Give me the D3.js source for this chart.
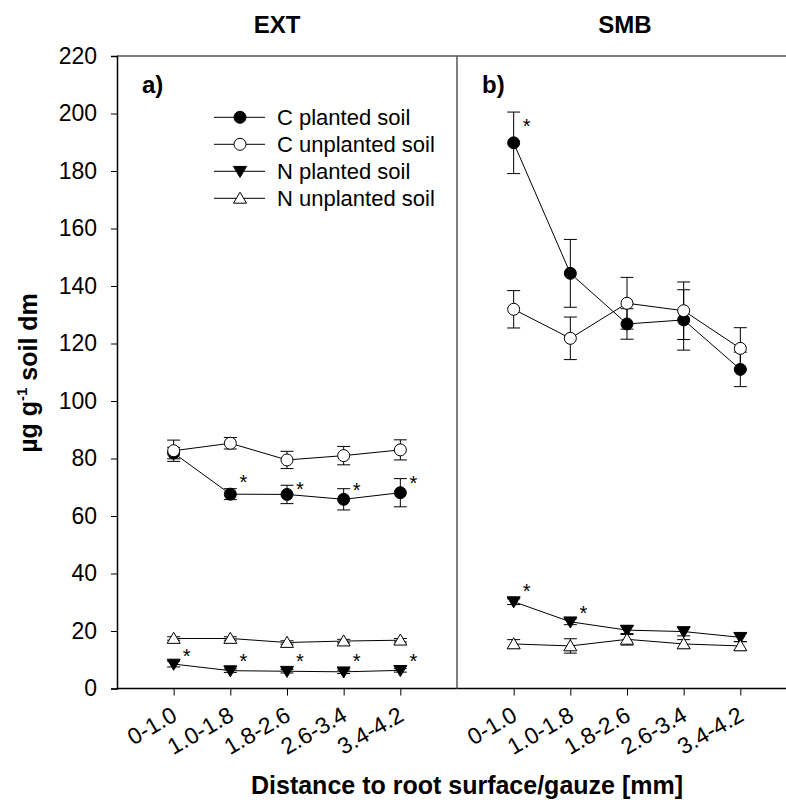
<!DOCTYPE html>
<html>
<head>
<meta charset="utf-8">
<script src="https://cdn.jsdelivr.net/npm/d3@7"></script>
<style>
  body { margin: 0; background: #fff; }
  text { font-family: Arial, "Liberation Sans", sans-serif; }
</style>
</head>
<body>
<script>
var width = 786, height = 802;

// categories and tick labels
var distances = ["0-1.0", "1.0-1.8", "1.8-2.6", "2.6-3.4", "3.4-4.2"];
var yTicks = [0, 20, 40, 60, 80, 100, 120, 140, 160, 180, 200, 220];

// EXT panel (a)
var extCPlanted = [81.9, 67.6, 67.5, 65.8, 68.1];
var extCPlantedErr = [2.0, 1.9, 3.2, 3.7, 4.9];
var extCUnplanted = [82.7, 85.3, 79.5, 81.0, 83.0];
var extCUnplantedErr = [3.7, 2.0, 3.0, 3.2, 3.5];
var extNPlanted = [8.5, 6.2, 6.0, 5.8, 6.3];
var extNPlantedErr = [1.0, 0.6, 0.6, 0.6, 0.6];
var extNUnplanted = [17.4, 17.4, 16.0, 16.5, 16.8];
var extNUnplantedErr = [0.6, 0.6, 0.6, 0.6, 0.6];
var extCStars = [null, 73.2, 70.8, 70.4, 72.9];
var extNStars = [12.8, 10.9, 10.9, 10.9, 11.1];

// SMB panel (b)
var smbCPlanted = [189.8, 144.4, 126.8, 128.2, 111.0];
var smbCPlantedErr = [10.7, 11.8, 5.3, 10.5, 6.0];
var smbCUnplanted = [131.9, 121.8, 134.0, 131.4, 118.3];
var smbCUnplantedErr = [6.5, 7.4, 9.0, 10.0, 7.2];
var smbNPlanted = [30.2, 23.2, 20.3, 19.8, 17.8];
var smbNPlantedErr = [1.0, 1.0, 1.5, 1.5, 1.5];
var smbNUnplanted = [15.5, 14.8, 17.1, 15.5, 14.8];
var smbNUnplantedErr = [1.5, 2.5, 2.0, 1.5, 1.5];
var smbCStars = [197.2, null, null, null, null];
var smbNStars = [35.4, 27.5, null, null, null];

var legendLabels = ["C planted soil", "C unplanted soil", "N planted soil", "N unplanted soil"];

var plotLeft = 117, plotTop = 56, plotBottom = 688.5, panelW = 340;

var svg = d3.select("body")
            .append("svg")
            .attr("width", width)
            .attr("height", height);

var y = d3.scaleLinear().domain([0, 220]).range([plotBottom, plotTop]);

// point shapes: 0 filled circle, 1 open circle, 2 filled down triangle, 3 open up triangle
function drawMarker(g, type, cx, cy) {
  if (type < 2) {
    g.append("circle")
     .attr("cx", cx).attr("cy", cy).attr("r", 6)
     .attr("fill", type == 0 ? "#000" : "#fff")
     .attr("stroke", "#000").attr("stroke-width", 1);
  } else {
    var s = 6.5;
    var pts = type == 2
      ? [[cx - s, cy - s * 0.75], [cx + s, cy - s * 0.75], [cx, cy + s * 0.95]]
      : [[cx - s, cy + s * 0.75], [cx + s, cy + s * 0.75], [cx, cy - s * 0.95]];
    g.append("polygon")
     .attr("points", pts.map(function(p) { return p.join(","); }).join(" "))
     .attr("fill", type == 2 ? "#000" : "#fff")
     .attr("stroke", "#000").attr("stroke-width", 1);
  }
}

function drawPanel(x0, series, stars, tag) {
  var x = d3.scalePoint().domain(distances).range([x0, x0 + panelW]).padding(1);
  var g = svg.append("g");

  // x axis ticks and labels
  var xAxis = d3.axisBottom(x).tickSize(7).tickFormat("");
  var ax = g.append("g").attr("transform", "translate(0," + plotBottom + ")").call(xAxis);
  ax.select(".domain").remove();
  ax.selectAll("line").attr("stroke", "#000");

  g.selectAll(".xlab")
   .data(distances)
   .enter()
   .append("text")
   .attr("text-anchor", "end")
   .attr("font-size", "23px")
   .attr("transform", function(d) {
     return "translate(" + (x(d) + 5) + "," + (plotBottom + 31) + ") rotate(-30)";
   })
   .text(function(d) { return d; });

  series.forEach(function(s) {
    var line = d3.line()
                 .x(function(d, i) { return x(distances[i]); })
                 .y(function(d) { return y(d); });
    g.append("path")
     .attr("d", line(s.values))
     .attr("fill", "none")
     .attr("stroke", "#000")
     .attr("stroke-width", 1);
  });

  series.forEach(function(s) {
    s.values.forEach(function(v, i) {
      var cx = x(distances[i]);
      var e = s.err[i];
      [y(v + e), y(v - e)].forEach(function(yy) {
        g.append("line")
         .attr("x1", cx - 6.5).attr("x2", cx + 6.5)
         .attr("y1", yy).attr("y2", yy)
         .attr("stroke", "#000").attr("stroke-width", 1);
      });
      g.append("line")
       .attr("x1", cx).attr("x2", cx)
       .attr("y1", y(v + e)).attr("y2", y(v - e))
       .attr("stroke", "#000").attr("stroke-width", 1);
    });
  });

  series.forEach(function(s) {
    s.values.forEach(function(v, i) {
      drawMarker(g, s.type, x(distances[i]), y(v));
    });
  });

  stars.forEach(function(st) {
    st.forEach(function(v, i) {
      if (v == null) return;
      g.append("text")
       .attr("x", x(distances[i]) + 13)
       .attr("y", y(v) + 11)
       .attr("text-anchor", "middle")
       .attr("font-size", "20px")
       .text("*");
    });
  });

  g.append("text")
   .attr("x", x0 + 25)
   .attr("y", 93)
   .attr("font-size", "24px")
   .attr("font-weight", "bold")
   .text(tag);
}

drawPanel(plotLeft, [
  { values: extCPlanted, err: extCPlantedErr, type: 0 },
  { values: extCUnplanted, err: extCUnplantedErr, type: 1 },
  { values: extNPlanted, err: extNPlantedErr, type: 2 },
  { values: extNUnplanted, err: extNUnplantedErr, type: 3 }
], [extCStars, extNStars], "a)");

drawPanel(plotLeft + panelW, [
  { values: smbCPlanted, err: smbCPlantedErr, type: 0 },
  { values: smbCUnplanted, err: smbCUnplantedErr, type: 1 },
  { values: smbNPlanted, err: smbNPlantedErr, type: 2 },
  { values: smbNUnplanted, err: smbNUnplantedErr, type: 3 }
], [smbCStars, smbNStars], "b)");

// frame
var frame = svg.append("g").attr("stroke", "#555").attr("stroke-width", 1.5);
frame.append("line").attr("x1", plotLeft).attr("x2", width).attr("y1", plotTop).attr("y2", plotTop);
frame.append("line").attr("x1", plotLeft).attr("x2", width).attr("y1", plotBottom).attr("y2", plotBottom).attr("stroke", "#000");
frame.append("line").attr("x1", plotLeft + panelW).attr("x2", plotLeft + panelW).attr("y1", plotTop).attr("y2", plotBottom);

// y axis
var yAxis = d3.axisLeft(y).tickValues(yTicks).tickSize(6).tickPadding(14);
var yg = svg.append("g").attr("transform", "translate(" + plotLeft + ",0)").call(yAxis);
yg.select(".domain").attr("stroke", "#000").attr("stroke-width", 1.5);
yg.selectAll("line").attr("stroke", "#000");
yg.selectAll("text").attr("font-size", "23px").attr("font-family", "Arial, 'Liberation Sans', sans-serif").attr("fill", "#000");

// panel titles
svg.append("text").attr("x", 277).attr("y", 33).attr("text-anchor", "middle")
   .attr("font-size", "24px").attr("font-weight", "bold").text("EXT");
svg.append("text").attr("x", 625).attr("y", 33).attr("text-anchor", "middle")
   .attr("font-size", "24px").attr("font-weight", "bold").text("SMB");

// axis titles
svg.append("text").attr("x", 467).attr("y", 794).attr("text-anchor", "middle")
   .attr("font-size", "25px").attr("font-weight", "bold")
   .text("Distance to root surface/gauze [mm]");

var yt = svg.append("text")
            .attr("transform", "translate(37,373) rotate(-90)")
            .attr("text-anchor", "middle")
            .attr("font-size", "25px").attr("font-weight", "bold");
yt.append("tspan").text("µg g");
yt.append("tspan").attr("dy", -10).attr("font-size", "15px").text("-1");
yt.append("tspan").attr("dy", 10).text(" soil dm");

// legend
var legend = svg.append("g");
legendLabels.forEach(function(lab, i) {
  var ly = 117.3 + i * 27;
  legend.append("line")
        .attr("x1", 214).attr("x2", 265).attr("y1", ly).attr("y2", ly)
        .attr("stroke", "#000").attr("stroke-width", 1);
  drawMarker(legend, i, 240, ly);
  legend.append("text")
        .attr("x", 277).attr("y", ly + 8)
        .attr("font-size", "22px")
        .text(lab);
});
</script>
</body>
</html>
